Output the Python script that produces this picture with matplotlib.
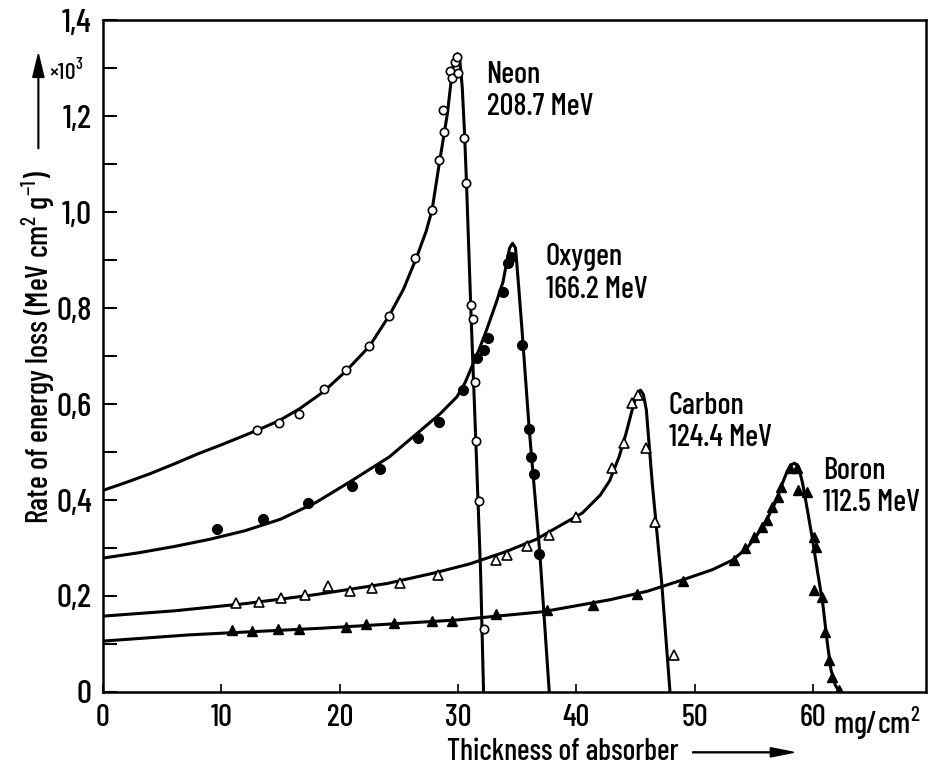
import numpy as np
import matplotlib
matplotlib.use("Agg")
from matplotlib import pyplot as plt
from matplotlib.patches import FancyArrow

plt.rcParams['font.family'] = ['Barlow Condensed', 'Roboto Condensed', 'DejaVu Sans']
plt.rcParams['font.weight'] = 'medium'
plt.rcParams['mathtext.fontset'] = 'custom'
plt.rcParams['mathtext.rm'] = 'Barlow Condensed:medium'

# measured points (thickness in mg/cm^2, dE/dx in 10^3 MeV cm^2/g)
neon_x = [13.0, 14.85, 16.6, 18.65, 20.5, 22.5, 24.2, 26.4, 27.8, 28.4, 28.8, 28.7,
          29.3, 29.45, 29.7, 29.9, 30.0, 30.5, 30.7, 31.1, 31.3, 31.4, 31.5, 31.8, 32.15]
neon_y = [0.546, 0.56, 0.579, 0.631, 0.671, 0.721, 0.783, 0.904, 1.004, 1.108, 1.167, 1.213,
          1.294, 1.279, 1.312, 1.323, 1.29, 1.154, 1.06, 0.806, 0.777, 0.646, 0.523, 0.398, 0.131]

oxygen_x = [9.6, 13.5, 17.3, 21.0, 23.4, 26.6, 28.4, 30.4, 31.6, 32.2, 32.5, 33.8,
            34.2, 34.5, 35.4, 36.0, 36.2, 36.4, 36.8]
oxygen_y = [0.34, 0.36, 0.394, 0.429, 0.465, 0.529, 0.563, 0.629, 0.696, 0.713, 0.738, 0.833,
            0.893, 0.906, 0.723, 0.548, 0.49, 0.454, 0.288]

carbon_x = [11.2, 13.2, 15.0, 17.1, 19.0, 20.9, 22.7, 25.1, 28.3, 33.2, 34.1, 35.8, 37.7,
            40.0, 43.0, 44.0, 44.7, 45.2, 45.9, 46.6, 48.2]
carbon_y = [0.185, 0.188, 0.196, 0.202, 0.221, 0.21, 0.217, 0.227, 0.244, 0.275, 0.285, 0.304, 0.327,
            0.365, 0.467, 0.519, 0.602, 0.619, 0.508, 0.354, 0.077]

boron_x = [10.9, 12.6, 14.8, 16.6, 20.5, 22.2, 24.6, 27.8, 29.5, 33.2, 37.5, 41.4, 45.1, 49.0,
           53.3, 54.2, 55.0, 55.7, 56.1, 56.5, 57.0, 57.3, 58.0, 58.6, 58.7, 59.5, 60.1, 60.2,
           60.1, 60.7, 61.0, 61.3, 61.6, 62.2]
boron_y = [0.129, 0.127, 0.131, 0.131, 0.136, 0.141, 0.144, 0.148, 0.148, 0.163, 0.171, 0.181, 0.204, 0.231,
           0.275, 0.30, 0.323, 0.344, 0.358, 0.386, 0.406, 0.427, 0.467, 0.467, 0.421, 0.417, 0.323, 0.302,
           0.213, 0.198, 0.125, 0.067, 0.031, 0.004]

# fitted curves
neon_fit_x = [0, 2, 4, 6, 8, 10, 13, 14.85, 16.6, 18.6, 20.5, 22.5, 24.2, 25.4, 26.5, 27.3, 27.8,
              28.4, 28.8, 29.1, 29.35, 29.55, 29.75, 29.95, 30.15, 30.35, 30.55, 30.7, 31.1,
              31.5, 31.9, 32.15]
neon_fit_y = [0.42, 0.437, 0.455, 0.475, 0.496, 0.515, 0.545, 0.565, 0.59, 0.625, 0.668, 0.72,
              0.785, 0.84, 0.906, 0.96, 1.004, 1.10, 1.16, 1.206, 1.26, 1.30, 1.322, 1.33, 1.315,
              1.26, 1.16, 1.067, 0.781, 0.52, 0.25, 0.0]

oxygen_fit_x = [0, 3, 6, 9, 12, 15, 18, 21, 24.2, 26.5, 28.5, 29.9, 30.6, 31.2, 31.8, 32.4,
                33.2, 33.8, 34.1, 34.35, 34.6, 34.85, 35.1, 35.4, 36.0, 36.9, 37.7]
oxygen_fit_y = [0.279, 0.29, 0.303, 0.318, 0.336, 0.36, 0.395, 0.44, 0.49, 0.538, 0.58, 0.615,
                0.645, 0.68, 0.715, 0.754, 0.81, 0.855, 0.895, 0.925, 0.935, 0.925, 0.85, 0.754,
                0.55, 0.29, 0.0]

carbon_fit_x = [0, 6, 12, 18, 24, 28, 31, 34, 36.6, 38.5, 40.5, 42, 42.8, 43.6, 44.2, 44.6,
                44.9, 45.15, 45.4, 45.65, 45.9, 46.4, 47.2, 47.9]
carbon_fit_y = [0.158, 0.169, 0.184, 0.203, 0.226, 0.248, 0.267, 0.292, 0.318, 0.345, 0.373,
                0.41, 0.44, 0.49, 0.54, 0.578, 0.605, 0.622, 0.629, 0.62, 0.588, 0.435, 0.227, 0.0]

boron_fit_x = [0, 7.3, 18.6, 29.9, 37.1, 42.8, 46, 48.9, 51.5, 53.2, 54.4, 55.2, 56.1, 56.9,
               57.4, 57.8, 58.1, 58.4, 58.75, 59.1, 59.5, 59.9, 60.4, 60.8, 61.2, 61.5, 61.85, 62.2]
boron_fit_y = [0.106, 0.119, 0.133, 0.15, 0.167, 0.192, 0.21, 0.233, 0.255, 0.275, 0.30, 0.325,
               0.36, 0.40, 0.435, 0.46, 0.472, 0.477, 0.47, 0.435, 0.38, 0.323, 0.245, 0.185,
               0.1, 0.046, 0.015, 0.0]

names = ['Neon\n208.7 MeV', 'Oxygen\n166.2 MeV', 'Carbon\n124.4 MeV', 'Boron\n112.5 MeV']

y_ticks = np.arange(0, 1.41, 0.1)
y_labels = ['0', '', '0,2', '', '0,4', '', '0,6', '', '0,8', '', '1,0', '', '1,2', '', '1,4']
x_ticks = [0, 10, 20, 30, 40, 50, 60]
x_labels = ['0', '10', '20', '30', '40', '50', '60']

fig = plt.figure(figsize=(9.36, 7.74), dpi=100)
ax = fig.add_axes([0.110, 0.106, 0.879, 0.868])

lw = 2.2
ax.plot(neon_fit_x, neon_fit_y, 'k', lw=lw, zorder=2)
ax.plot(oxygen_fit_x, oxygen_fit_y, 'k', lw=lw, zorder=2)
ax.plot(carbon_fit_x, carbon_fit_y, 'k', lw=lw, zorder=2)
ax.plot(boron_fit_x, boron_fit_y, 'k', lw=lw, zorder=2)

ms = 6
ax.plot(neon_x, neon_y, 'o', ms=ms, mfc='white', mec='k', mew=1.2, zorder=3)
ax.plot(oxygen_x, oxygen_y, 'o', ms=ms + 1, mfc='k', mec='k', zorder=3)
ax.plot(carbon_x, carbon_y, '^', ms=ms + 1, mfc='white', mec='k', mew=1.2, zorder=3)
ax.plot(boron_x, boron_y, '^', ms=ms + 1, mfc='k', mec='k', zorder=3)

# curve names
fs = 22
ax.text(32.4, 1.315, names[0], fontsize=fs, va='top', linespacing=1.2)
ax.text(37.4, 0.935, names[1], fontsize=fs, va='top', linespacing=1.2)
ax.text(47.8, 0.625, names[2], fontsize=fs, va='top', linespacing=1.2)
ax.text(60.8, 0.49, names[3], fontsize=fs, va='top', linespacing=1.2)

ax.set_xlim(0, 69.5)
ax.set_ylim(0, 1.4)
ax.set_yticks(y_ticks)
ax.set_yticklabels(y_labels, fontsize=24)
ax.set_xticks(x_ticks)
ax.set_xticklabels(x_labels, fontsize=22)
ax.tick_params(axis='y', direction='in', length=10, width=1.5, pad=8)
ax.tick_params(axis='x', direction='in', length=6, width=1.2, pad=9)
for s in ax.spines.values():
    s.set_linewidth(1.8)

ax.annotate('mg/cm$^2$', xy=(60, 0), xytext=(14, -9), textcoords='offset points',
            fontsize=22, va='top', ha='left')

# axis titles with arrows
fig.text(0.041, 0.552, 'Rate of energy loss (MeV cm$^2$ g$^{-1}$)', rotation=90,
         fontsize=22, ha='center', va='center')
fig.text(0.071, 0.908, '×10$^3$', fontsize=17, ha='center', va='center')
fig.patches.append(FancyArrow(
    0.041, 0.808, 0, 0.122, width=0.0008, head_width=0.012, head_length=0.03,
    color='k', transform=fig.transFigure, length_includes_head=True))

fig.text(0.601, 0.028, 'Thickness of absorber', fontsize=21.5, ha='center', va='center')
fig.patches.append(FancyArrow(
    0.740, 0.028, 0.108, 0, width=0.0012, head_width=0.012, head_length=0.025,
    color='k', transform=fig.transFigure, length_includes_head=True))

fig.savefig('out.png', dpi=100)
